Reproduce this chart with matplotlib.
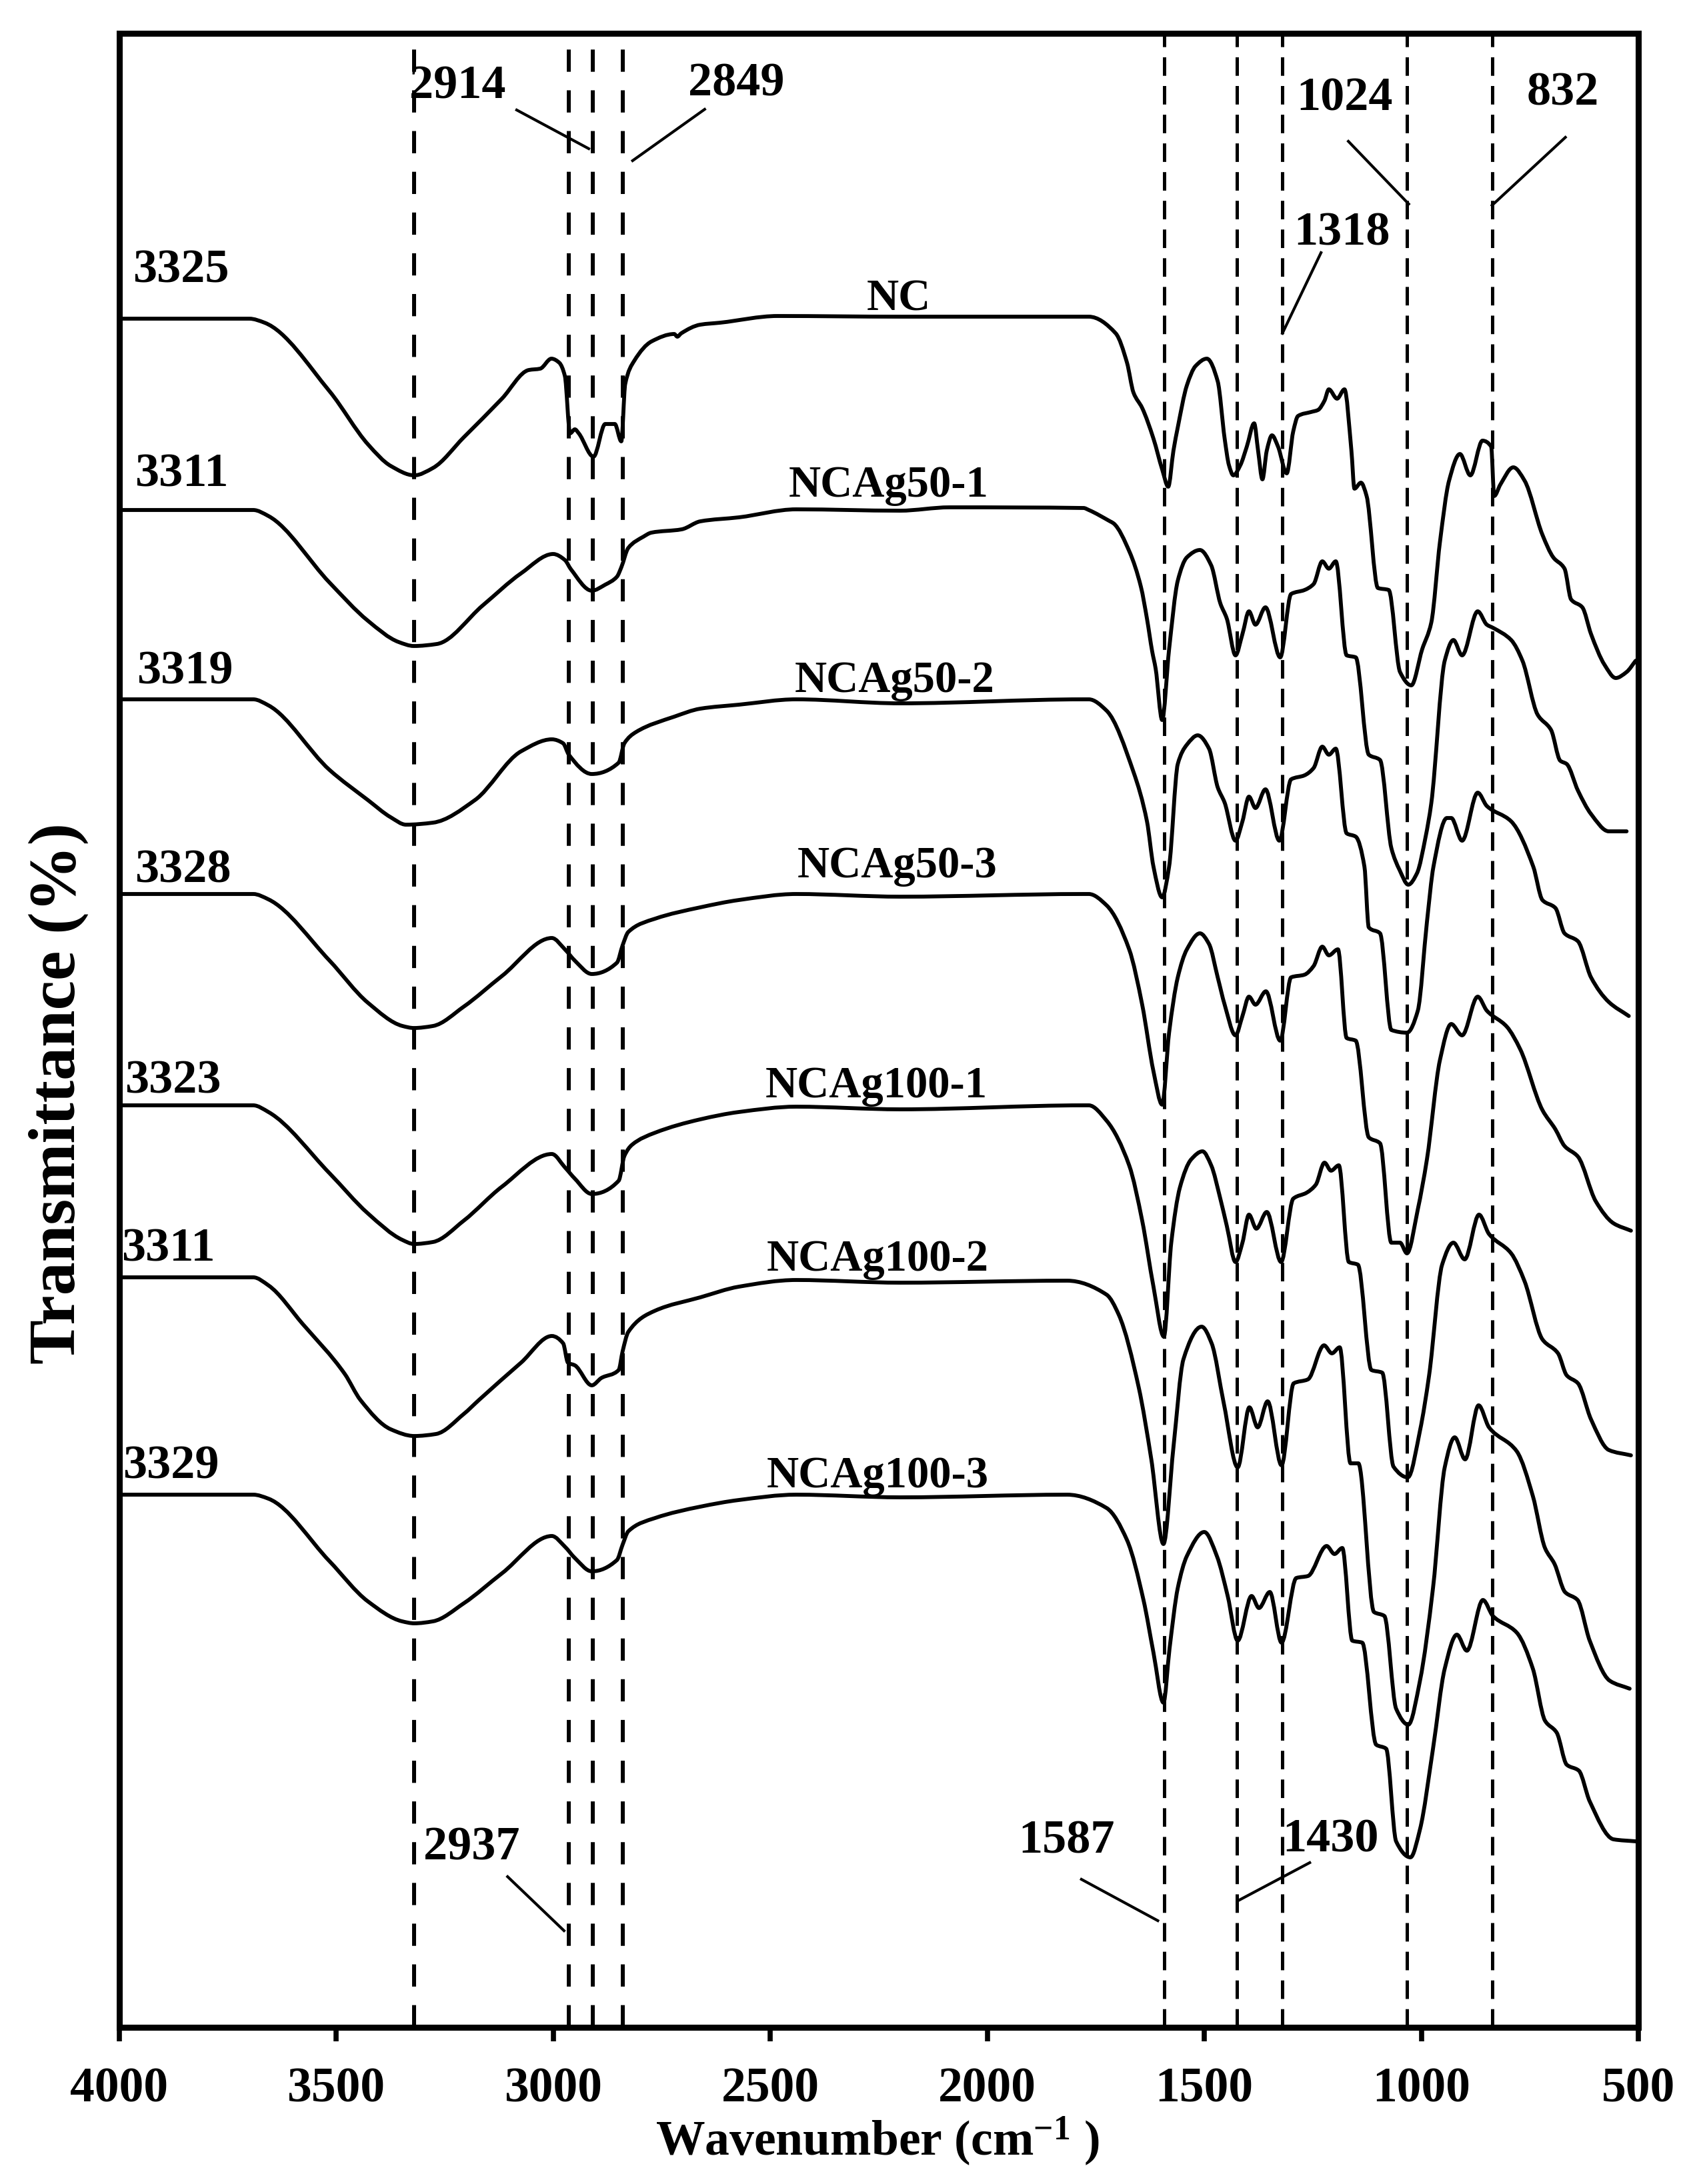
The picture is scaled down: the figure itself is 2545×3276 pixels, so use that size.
import matplotlib
matplotlib.use("Agg")
import matplotlib.pyplot as plt
from matplotlib.path import Path
from matplotlib.patches import PathPatch
import numpy as np

plt.rcParams['font.family'] = ['Liberation Serif', 'DejaVu Serif']
plt.rcParams['mathtext.fontset'] = 'custom'
plt.rcParams['mathtext.rm'] = 'Liberation Serif:bold'
plt.rcParams['mathtext.bf'] = 'Liberation Serif:bold'
plt.rcParams['mathtext.default'] = 'bf'
plt.rcParams['lines.scale_dashes'] = False

# ---------------- data (wavenumber, relative transmittance) ----------------
nc_wn = [4000, 3700, 3665, 3515, 3426, 3374, 3320, 3277, 3206, 3118, 3056, 3030, 3004, 2986, 2973, 2961,
         2950, 2941, 2907, 2880, 2858, 2843, 2834, 2813, 2773, 2721, 2714, 2705, 2661, 2615, 2483, 2200,
         1778, 1766, 1704, 1678, 1663, 1643, 1617, 1597, 1583, 1571, 1561, 1540, 1520, 1494, 1469, 1453,
         1443, 1433, 1417, 1402, 1385, 1376, 1366, 1356, 1344, 1330, 1310, 1295, 1284, 1254, 1238, 1223,
         1213, 1194, 1177, 1161, 1154, 1139, 1126, 1100, 1075, 1049, 1023, 998, 977, 957, 936, 911, 887,
         859, 839, 832, 818, 788, 762, 721, 696, 670, 655, 629, 609, 578, 552, 527, 506]
nc_t = [0, 0, -0.6, -10.9, -18.9, -22.1, -23.5, -22.4, -17.8, -12.0, -7.7, -7.5, -6.0, -6.6, -8.6, -17.2,
        -16.6, -17.2, -20.7, -15.8, -15.8, -18.4, -9.8, -6.3, -3.4, -2.3, -2.7, -2.2, -0.9, -0.6, 0.4, 0.3,
        0.3, 0.3, -2.2, -6.6, -11.1, -13.4, -18.0, -22.6, -25.2, -19.8, -16.3, -10.0, -7.1, -6.0, -9.4, -18.0,
        -22.0, -23.5, -22.0, -19.2, -15.7, -19.8, -24.1, -19.8, -17.5, -19.2, -23.2, -16.9, -14.6, -14.0, -13.7, -12.3,
        -10.6, -12.0, -10.6, -19.8, -25.5, -24.6, -26.6, -40.4, -40.7, -53.0, -55.0, -49.6, -45.6, -33.5, -24.3, -20.3, -23.5,
        -18.3, -19.2, -26.6, -24.9, -22.3, -24.3, -32.4, -35.8, -37.5, -42.1, -43.3, -47.3, -51.9, -53.9, -53.0, -51.3]

ag50_1_wn = [4000, 3691, 3656, 3515, 3427, 3356, 3321, 3268, 3162, 3074, 3000, 2973, 2959, 2911, 2880, 2853,
             2843, 2827, 2792, 2774, 2704, 2661, 2572, 2440, 2201, 2087, 1778, 1766, 1717, 1709, 1672, 1646,
             1632, 1620, 1612, 1597, 1581, 1561, 1540, 1510, 1484, 1463, 1448, 1428, 1412, 1397, 1382, 1359,
             1325, 1300, 1269, 1248, 1228, 1213, 1197, 1172, 1151, 1121, 1095, 1069, 1050, 1030, 1010, 990,
             977, 946, 926, 906, 870, 849, 834, 793, 767, 732, 701, 680, 665, 639, 609, 568, 527]
ag50_1_t = [0, 0, -0.9, -10.9, -16.6, -19.8, -20.4, -20.1, -14.3, -9.5, -6.6, -7.5, -8.9, -12.1, -11.2, -10.0,
            -8.6, -5.7, -4.0, -3.4, -2.9, -1.7, -1.1, 0.1, -0.1, 0.4, 0.3, 0, -1.7, -2.0, -6.3, -11.5,
            -16.3, -21.2, -23.8, -31.5, -20.9, -10.6, -7.1, -6.0, -8.3, -14.0, -16.3, -21.8, -18.6, -15.2, -17.2, -14.6,
            -22.1, -12.6, -12.0, -11.1, -7.7, -8.8, -7.7, -21.8, -22.1, -36.7, -37.5, -50.7, -54.0, -56.2, -54.5, -49.0,
            -44.0, -22.6, -19.5, -21.8, -15.2, -17.2, -17.7, -19.5, -22.6, -30.7, -33.0, -37.6, -38.1, -42.1, -45.6, -48.2, -48.2]

ag50_2_wn = [4000, 3691, 3656, 3515, 3427, 3374, 3339, 3277, 3180, 3074, 3003, 2977, 2964, 2911, 2849, 2836,
             2809, 2721, 2661, 2572, 2440, 2201, 1778, 1766, 1725, 1663, 1632, 1617, 1597, 1581, 1561, 1540,
             1515, 1489, 1469, 1453, 1428, 1412, 1397, 1382, 1359, 1327, 1300, 1269, 1248, 1228, 1213, 1197,
             1172, 1151, 1131, 1121, 1095, 1069, 1033, 1008, 987, 972, 941, 931, 906, 870, 849, 793, 742,
             721, 691, 670, 639, 609, 568, 522]
ag50_2_t = [0, 0, -0.9, -10.6, -15.1, -17.7, -18.8, -18.5, -15.1, -7.8, -6.0, -6.6, -8.3, -11.2, -9.5, -6.6,
            -4.9, -2.6, -1.4, -0.8, 0, -0.6, 0, 0, -1.7, -10.9, -18.3, -25.1, -29.7, -25.1, -9.7, -6.8,
            -5.4, -7.4, -13.2, -15.5, -21.2, -18.3, -14.6, -16.3, -13.5, -21.2, -12.0, -11.4, -10.3, -7.1, -8.3, -7.4,
            -20.1, -20.6, -25.1, -34.2, -35.1, -49.6, -50.0, -46.7, -33.4, -25.1, -17.8, -17.8, -21.2, -14.0, -16.0, -18.3, -25.1,
            -30.1, -31.3, -35.1, -36.3, -41.7, -45.4, -47.5]

ag50_3_wn = [4000, 3691, 3656, 3515, 3427, 3347, 3321, 3277, 3206, 3118, 3003, 2973, 2950, 2911, 2853, 2840,
             2827, 2765, 2661, 2572, 2440, 2200, 1778, 1766, 1725, 1673, 1643, 1617, 1597, 1581, 1561, 1540,
             1510, 1489, 1469, 1453, 1428, 1412, 1397, 1382, 1358, 1325, 1300, 1269, 1248, 1228, 1213, 1192,
             1172, 1151, 1121, 1095, 1069, 1049, 1033, 1008, 987, 957, 931, 906, 870, 849, 803, 772, 721,
             691, 670, 639, 598, 557, 517]
ag50_3_t = [0, 0, -0.8, -10.0, -16.3, -19.8, -20.1, -19.8, -16.9, -12.3, -6.6, -8.3, -10.0, -12.0, -10.3, -7.7,
            -5.7, -3.7, -2.0, -0.9, 0, -0.4, 0, 0, -1.7, -8.3, -16.6, -26.6, -31.6, -20.8, -12.5, -8.3,
            -5.9, -7.5, -12.5, -16.6, -21.2, -18.3, -15.4, -16.6, -14.6, -22.0, -12.5, -12.1, -10.8, -7.9, -9.2, -8.3,
            -21.6, -22.0, -36.5, -37.4, -52.3, -52.3, -53.9, -47.3, -39.8, -24.9, -19.5, -21.2, -15.4, -17.5, -19.9, -23.3, -32.4,
            -35.3, -37.8, -39.4, -46.1, -49.4, -50.5]

ag100_1_wn = [4000, 3691, 3656, 3515, 3427, 3347, 3321, 3277, 3206, 3118, 3003, 2973, 2950, 2911, 2849, 2836,
              2818, 2765, 2661, 2572, 2440, 2200, 1778, 1766, 1725, 1673, 1643, 1617, 1593, 1576, 1556, 1530,
              1504, 1484, 1463, 1448, 1428, 1412, 1397, 1380, 1356, 1323, 1295, 1264, 1243, 1223, 1208, 1190,
              1167, 1146, 1115, 1090, 1064, 1031, 1003, 982, 952, 926, 900, 867, 844, 793, 762, 721, 685,
              665, 639, 609, 568, 517]
ag100_1_t = [0, 0, -1.0, -10.2, -16.2, -20.2, -20.8, -20.5, -17.3, -12.2, -7.3, -9.3, -11.0, -13.3, -11.3, -7.6,
             -5.9, -4.1, -2.1, -1.0, -0.2, -0.6, 0, 0, -2.3, -9.0, -17.3, -27.2, -34.7, -20.6, -12.3, -8.1,
             -6.9, -9.0, -14.0, -18.1, -23.5, -20.6, -16.4, -18.5, -16.0, -23.5, -14.0, -13.1, -11.9, -8.6, -9.8, -9.0,
             -23.5, -23.9, -39.7, -40.1, -54.2, -55.8, -48.8, -40.5, -23.9, -20.6, -23.1, -16.4, -19.3, -22.2, -26.4, -35.1, -37.2,
             -40.5, -41.7, -47.1, -51.7, -52.5]

ag100_2_wn = [4000, 3691, 3656, 3577, 3480, 3444, 3374, 3320, 3270, 3206, 3171, 3074, 3003, 2977, 2966, 2950,
              2911, 2889, 2849, 2840, 2827, 2765, 2661, 2572, 2440, 2200, 1816, 1725, 1697, 1651, 1622, 1594,
              1571, 1548, 1506, 1483, 1455, 1423, 1396, 1377, 1354, 1322, 1294, 1261, 1224, 1206, 1188, 1163,
              1145, 1109, 1085, 1058, 1030, 1003, 973, 946, 923, 899, 868, 844, 780, 743, 715, 693, 669,
              640, 612, 566, 520]
ag100_2_t = [0, 0, -1.2, -7.0, -14.5, -18.4, -22.8, -23.8, -23.5, -20.5, -18.4, -12.8, -8.8, -9.9, -12.8, -13.2,
             -16.2, -15.1, -13.9, -11.1, -8.2, -5.0, -3.0, -1.4, -0.4, -0.8, -0.5, -2.6, -5.6, -16.5, -27.3, -40.0,
             -25.5, -12.3, -7.4, -9.9, -18.9, -28.5, -19.5, -22.5, -18.6, -28.2, -15.9, -15.3, -10.2, -11.4, -10.5, -27.9,
             -27.9, -50.2, -50.8, -64.7, -67.1, -60.5, -46.6, -28.5, -24.0, -27.3, -19.2, -22.5, -26.1, -32.8, -40.6, -43.0, -47.2,
             -48.4, -54.5, -60.5, -61.7]

ag100_3_wn = [4000, 3691, 3656, 3515, 3427, 3348, 3320, 3277, 3206, 3118, 3003, 2973, 2950, 2911, 2853, 2840,
              2827, 2765, 2661, 2572, 2440, 2200, 1816, 1725, 1678, 1640, 1617, 1594, 1580, 1561, 1540, 1500,
              1471, 1446, 1423, 1391, 1374, 1349, 1322, 1288, 1261, 1218, 1200, 1182, 1159, 1136, 1104, 1081,
              1058, 1025, 1003, 973, 946, 918, 895, 858, 835, 780, 743, 715, 688, 665, 637, 612, 557, 506]
ag100_3_t = [0, 0, -0.6, -10.0, -16.0, -19.0, -19.3, -19.0, -16.3, -11.8, -6.2, -7.8, -9.5, -11.5, -9.8, -7.5,
             -5.5, -3.5, -1.8, -0.8, 0, -0.4, 0, -2.0, -6.8, -15.8, -23.7, -31.2, -23.1, -14.0, -9.2, -5.6,
             -9.2, -15.2, -21.9, -15.2, -17.0, -14.6, -22.2, -12.5, -12.2, -7.7, -8.9, -8.0, -21.9, -22.2, -37.5, -38.1,
             -52.0, -54.4, -50.2, -38.1, -26.1, -21.0, -23.4, -15.8, -18.2, -20.7, -26.1, -33.9, -35.7, -40.5, -41.4, -46.0, -51.7, -52.0]

series_wn = [nc_wn, ag50_1_wn, ag50_2_wn, ag50_3_wn, ag100_1_wn, ag100_2_wn, ag100_3_wn]
series_t = [nc_t, ag50_1_t, ag50_2_t, ag50_3_t, ag100_1_t, ag100_2_t, ag100_3_t]
series_offset = [256.3, 227.6, 199.2, 170.0, 138.3, 112.5, 79.9]
series_names = ['NC', 'NCAg50-1', 'NCAg50-2', 'NCAg50-3', 'NCAg100-1', 'NCAg100-2', 'NCAg100-3']
oh_peaks = ['3325', '3311', '3319', '3328', '3323', '3311', '3329']

left_lines = [3320, 2964, 2909, 2840]
right_lines = [1592, 1425, 1320, 1033, 837]
xticks = [4000, 3500, 3000, 2500, 2000, 1500, 1000, 500]

peak_labels = ['2914', '2849', '1024', '832', '1318', '2937', '1587', '1430']


def smooth_path(x, y):
    """Monotone cubic (PCHIP) through the read points, as a Bezier path."""
    x = np.asarray(x, float)
    y = np.asarray(y, float)
    h = np.diff(x)
    d = np.diff(y) / h
    n = len(x)
    m = np.zeros(n)
    for i in range(1, n - 1):
        if d[i - 1] * d[i] > 0:
            w1 = 2 * h[i] + h[i - 1]
            w2 = h[i] + 2 * h[i - 1]
            m[i] = (w1 + w2) / (w1 / d[i - 1] + w2 / d[i])
    m[0] = d[0]
    m[-1] = d[-1]
    verts = [(x[0], y[0])]
    codes = [Path.MOVETO]
    for i in range(n - 1):
        verts += [(x[i] + h[i] / 3, y[i] + m[i] * h[i] / 3),
                  (x[i + 1] - h[i] / 3, y[i + 1] - m[i + 1] * h[i] / 3),
                  (x[i + 1], y[i + 1])]
        codes += [Path.CURVE4] * 3
    return Path(verts, codes)


# ---------------- layout ----------------
W, H = 2545, 3276
fig = plt.figure(figsize=(W / 100, H / 100), dpi=100)
x0, x1, y_top, y_bot = 178.6, 2457, 50, 3041
ax = fig.add_axes([x0 / W, 1 - y_bot / H, (x1 - x0) / W, (y_bot - y_top) / H])
ax.set_xlim(4000, 500)
ax.set_ylim(0, 299.1)

for s in ax.spines.values():
    s.set_linewidth(6.5)
    s.set_color('black')

ax.set_yticks([])
ax.set_xticks(xticks)
ax.set_xticklabels([str(v) for v in xticks])
ax.tick_params(axis='x', direction='out', length=15, width=5.5, pad=28, labelsize=53)
for lbl in ax.get_xticklabels():
    lbl.set_fontweight('bold')

# dashed guide lines
for w in left_lines:
    ax.axvline(w, color='black', lw=4.3, linestyle=(0, (24, 20)), zorder=1)
for w in right_lines:
    ax.axvline(w, color='black', lw=3.6, linestyle=(0, (20, 11)), zorder=1)

# spectra
for wn, t, off in zip(series_wn, series_t, series_offset):
    p = smooth_path(wn, off + np.array(t))
    ax.add_patch(PathPatch(p, facecolor='none', edgecolor='black', lw=4.2,
                           joinstyle='round', capstyle='round', zorder=3))

# OH-band labels (left) and sample names
oh_pos = [(3969, 261.8), (3964, 231.1), (3960, 201.5), (3964, 171.8), (3987, 140.2), (3995, 114.9), (3991, 82.3)]
for lab, (px, py) in zip(oh_peaks, oh_pos):
    ax.text(px, py, lab, ha='left', va='baseline', fontsize=52, fontweight='bold')

name_pos = [(2204, 257.5), (2227, 229.6), (2213, 200.3), (2207, 172.5), (2256, 139.5), (2252, 113.5), (2252, 81.0)]
for lab, (px, py) in zip(series_names, name_pos):
    ax.text(px, py, lab, ha='center', va='baseline', fontsize=48, fontweight='bold')

# peak annotations
peak_pos = [(3331, 289.4), (2689, 289.8), (1288, 287.6), (757, 288.3), (1294, 267.3),
            (3299, 25.1), (1928, 26.1), (1320, 26.4)]
leader = [((3084, 287.6), (2918, 281.8)), ((2651, 287.7), (2817, 280.0)),
          ((1168, 282.9), (1029, 273.5)), ((668, 283.5), (837, 273.3)),
          ((1231, 266.2), (1320, 254.1)), ((3105, 22.6), (2975, 14.5)),
          ((1783, 22.2), (1607, 16.0)), ((1257, 24.7), (1422, 19.0))]
for lab, (px, py), (p1, p2) in zip(peak_labels, peak_pos, leader):
    ax.text(px, py, lab, ha='left', va='baseline', fontsize=52, fontweight='bold')
    ax.plot([p1[0], p2[0]], [p1[1], p2[1]], color='black', lw=3.0)

# axis titles
fig.text(1316 / W, 1 - 3233 / H, 'Wavenumber (cm$^{-1}$ )', ha='center', va='baseline',
         fontsize=53, fontweight='bold')
fig.text(88 / W, 1 - 1640 / H, 'Transmittance (%)', rotation=90, ha='center', va='center',
         fontsize=72, fontweight='bold')

fig.savefig('out.png', dpi=100)
